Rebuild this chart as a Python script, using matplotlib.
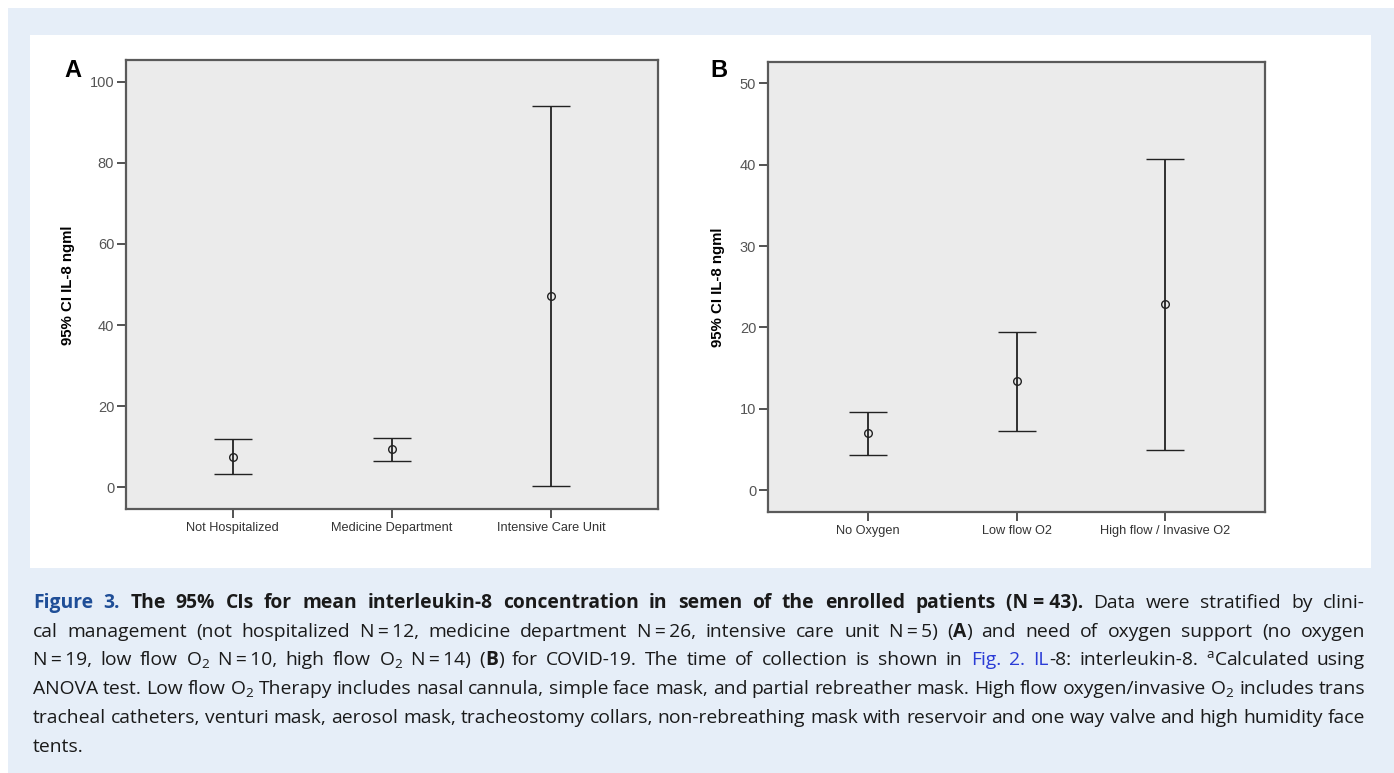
import matplotlib
matplotlib.use("Agg")
import matplotlib.pyplot as plt
from matplotlib.patches import Rectangle
import numpy as np

plt.rcParams['font.family'] = ['Liberation Sans', 'DejaVu Sans']
plt.rcParams['mathtext.fontset'] = 'custom'
plt.rcParams['mathtext.rm'] = 'Open Sans'
plt.rcParams['mathtext.default'] = 'rm'

# panel A: clinical management
groups_a = ["Not Hospitalized", "Medicine Department", "Intensive Care Unit"]
mean_a = np.array([7.5, 9.3, 47.2])
low_a = np.array([3.3, 6.5, 0.3])
high_a = np.array([11.9, 12.0, 94.1])

# panel B: oxygen support
groups_b = ["No Oxygen", "Low flow O2", "High flow / Invasive O2"]
mean_b = np.array([7.0, 13.4, 22.9])
low_b = np.array([4.3, 7.3, 4.9])
high_b = np.array([9.6, 19.4, 40.7])

ylabel = "95% CI IL-8 ngml"

W, H = 1394, 773
fig = plt.figure(figsize=(W / 100, H / 100), dpi=100)
fig.patch.set_facecolor('white')

def px_rect(x0, y0, x1, y1):
    # pixel box (top-left origin) -> figure fraction
    return [x0 / W, 1 - y1 / H, (x1 - x0) / W, (y1 - y0) / H]

bg = px_rect(8, 8, W, H)
fig.add_artist(Rectangle(bg[:2], bg[2], bg[3], transform=fig.transFigure,
                         facecolor='#e6eef8', edgecolor='none', zorder=-20))
wp = px_rect(30, 35, 1371, 568)
fig.add_artist(Rectangle(wp[:2], wp[2], wp[3], transform=fig.transFigure,
                         facecolor='white', edgecolor='none', zorder=-19))

ink = '#222222'
grey = '#555555'

def ci_panel(rect, groups, mean, low, high, ylim, yticks):
    ax = fig.add_axes(px_rect(*rect))
    ax.set_facecolor('#ebebeb')
    x = np.arange(1, len(groups) + 1)
    ax.errorbar(x, mean, yerr=[mean - low, high - mean], fmt='o', ms=5.5,
                mfc='none', mec=ink, mew=1.0, ecolor=ink, elinewidth=1.3,
                capsize=13.5, capthick=1.3)
    ax.set_xlim(0.33, 3.67)
    ax.set_ylim(*ylim)
    ax.set_yticks(yticks)
    ax.set_xticks(x)
    ax.set_xticklabels(groups)
    for s in ax.spines.values():
        s.set_color('#5a5a5a')
        s.set_linewidth(1.6)
    ax.tick_params(axis='y', direction='out', length=6.5, width=1.3,
                   color='#444444', labelcolor=grey, labelsize=10.5, pad=2)
    ax.tick_params(axis='x', direction='out', length=6.5, width=1.3,
                   color='#444444', labelcolor='#333333', labelsize=9.2, pad=3)
    return ax

ax_a = ci_panel((126, 60, 658, 509), groups_a, mean_a, low_a, high_a,
                (-5.4, 105.4), np.arange(0, 101, 20))
ax_b = ci_panel((768, 62, 1265, 512), groups_b, mean_b, low_b, high_b,
                (-2.67, 52.6), np.arange(0, 51, 10))

fig.text(68 / W, 1 - 285 / H, ylabel, rotation=90, ha='center', va='center',
         fontsize=10.8, fontweight='bold', color='black')
fig.text(718 / W, 1 - 287 / H, ylabel, rotation=90, ha='center', va='center',
         fontsize=10.8, fontweight='bold', color='black')
fig.text(64 / W, 1 - 77 / H, "A", fontsize=17, fontweight='bold', va='baseline')
fig.text(710 / W, 1 - 77 / H, "B", fontsize=17, fontweight='bold', va='baseline')

# caption, justified word by word
cap_lines = [
    [("Figure 3. ", "fig"),
     ("The 95% CIs for mean interleukin-8 concentration in semen of the enrolled patients (N\u00a0=\u00a043). ", "b"),
     ("Data were stratified by clini-", "n")],
    [("cal management (not hospitalized N\u2009=\u200912, medicine department N\u2009=\u200926, intensive care unit N\u2009=\u20095) (", "n"),
     ("A", "b"), (") and need of oxygen support (no oxygen", "n")],
    [("N\u2009=\u200919, low flow O$_2$ N\u2009=\u200910, high flow O$_2$ N\u2009=\u200914) (", "n"),
     ("B", "b"), (") for COVID-19. The time of collection is shown in ", "n"),
     ("Fig. 2. IL", "link"), ("-8: interleukin-8. $^{a}$Calculated using", "n")],
    [("ANOVA test. Low flow O$_2$ Therapy includes nasal cannula, simple face mask, and partial rebreather mask. High flow oxygen/invasive O$_2$ includes trans", "n")],
    [("tracheal catheters, venturi mask, aerosol mask, tracheostomy collars, non-rebreathing mask with reservoir and one way valve and high humidity face", "n")],
    [("tents.", "n")],
]
styles = {
    "fig": dict(fontweight='bold', color='#1f4e97'),
    "b": dict(fontweight='bold', color='#1a1a1a'),
    "n": dict(fontweight='normal', color='#1a1a1a'),
    "link": dict(fontweight='normal', color='#2a3bd6'),
}
cap_font = ['Open Sans', 'DejaVu Sans']
x_left, x_right = 33, 1365
base0, step = 608, 28.7

def split_words(runs):
    words = [[]]
    for txt, st in runs:
        parts = txt.split(' ')
        for i, p in enumerate(parts):
            if i > 0:
                words.append([])
            if p:
                words[-1].append((p, st))
    return [w for w in words if w]

r = fig.canvas.get_renderer()

def space_width(size):
    p1 = fig.text(0, 0, "x x", family=cap_font, fontsize=size)
    p2 = fig.text(0, 0, "xx", family=cap_font, fontsize=size)
    sw = p1.get_window_extent(r).width - p2.get_window_extent(r).width
    p1.remove()
    p2.remove()
    return sw

def make_line(runs, yb, size):
    placed = []
    for w in split_words(runs):
        segs = []
        for txt, st in w:
            t = fig.text(0, yb, txt, family=cap_font, fontsize=size,
                         va='baseline', ha='left', **styles[st])
            segs.append((t, t.get_window_extent(r).width))
        placed.append(segs)
    return placed

# pick caption size so that the naturally set line 4 fills the measure
base_size = 13
probe = make_line(cap_lines[3], 0, base_size)
nat = sum(tw for segs in probe for _, tw in segs) + (len(probe) - 1) * space_width(base_size)
for segs in probe:
    for t, _ in segs:
        t.remove()
cap_size = base_size * (x_right - x_left) / nat
space_w = space_width(cap_size)

for li, runs in enumerate(cap_lines):
    yb = 1 - (base0 + li * step) / H
    placed = make_line(runs, yb, cap_size)
    widths = [sum(tw for _, tw in segs) for segs in placed]
    if li < len(cap_lines) - 1 and len(placed) > 1:
        gap = (x_right - x_left - sum(widths)) / (len(placed) - 1)
    else:
        gap = space_w
    x = x_left
    for segs, ww in zip(placed, widths):
        xx = x
        for t, tw in segs:
            t.set_x(xx / W)
            xx += tw
        x += ww + gap

fig.savefig("out.png", dpi=100, facecolor=fig.get_facecolor())
